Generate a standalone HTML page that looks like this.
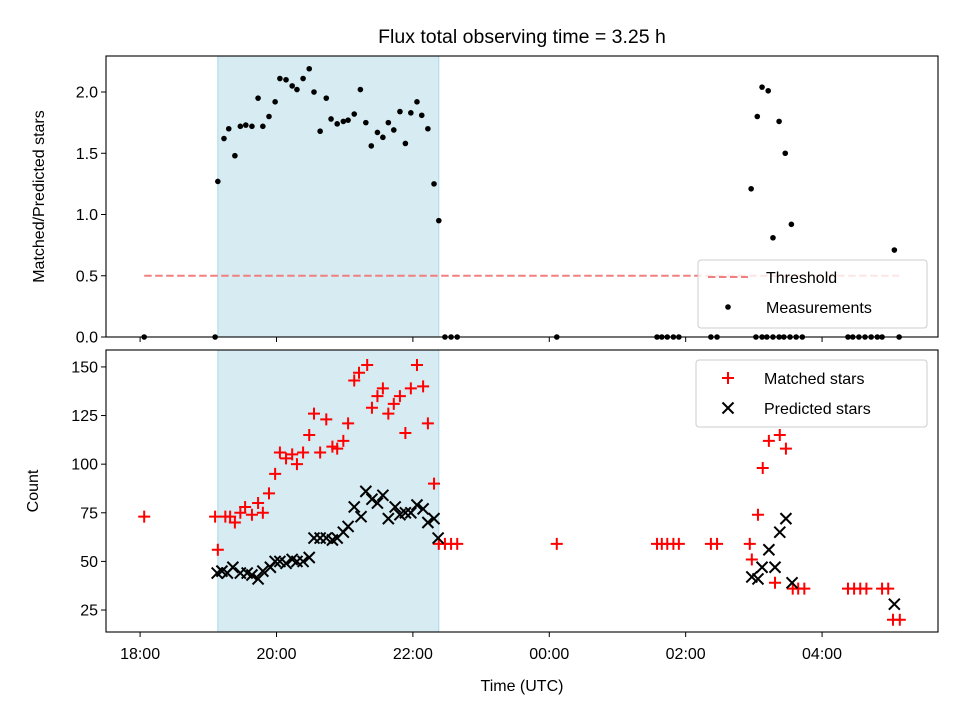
<!DOCTYPE html>
<html><head><meta charset="utf-8"><style>
body{margin:0;background:#fff}
svg{display:block;font-family:"Liberation Sans","DejaVu Sans",sans-serif}
</style></head><body>
<svg id="c" width="960" height="720"></svg>
<script>
const topT=[19.14,19.23,19.30,19.39,19.47,19.55,19.64,19.73,19.80,19.89,19.98,20.05,20.14,20.23,20.30,20.39,20.48,20.55,20.64,20.73,20.80,20.89,20.98,21.05,21.14,21.23,21.31,21.39,21.48,21.56,21.64,21.72,21.81,21.89,21.97,22.06,22.13,22.22,22.31,22.38,
18.06,19.10,22.47,22.56,22.65,24.11,25.58,25.65,25.73,25.82,25.90,26.37,26.46,27.03,27.12,27.19,27.28,27.37,27.44,27.53,27.62,27.71,28.38,28.45,28.54,28.63,28.72,28.81,28.88,29.13,
26.96,27.05,27.12,27.21,27.28,27.37,27.46,27.55,29.06];
const topV=[1.27,1.62,1.70,1.48,1.72,1.73,1.72,1.95,1.72,1.80,1.92,2.11,2.10,2.05,2.02,2.11,2.19,2.00,1.68,1.95,1.78,1.74,1.76,1.77,1.82,2.02,1.75,1.56,1.67,1.63,1.75,1.69,1.84,1.58,1.83,1.92,1.81,1.70,1.25,0.95,
0,0,0,0,0,0,0,0,0,0,0,0,0,0,0,0,0,0,0,0,0,0,0,0,0,0,0,0,0,0,
1.21,1.80,2.04,2.01,0.81,1.76,1.50,0.92,0.71];
const matT=[18.06,19.10,19.14,19.25,19.32,19.39,19.47,19.54,19.64,19.73,19.80,19.89,19.98,20.05,20.14,20.23,20.30,20.39,20.48,20.55,20.64,20.73,20.82,20.89,20.98,21.05,21.14,21.21,21.33,21.40,21.48,21.56,21.64,21.72,21.81,21.89,21.97,22.06,22.15,22.22,22.31,22.38,22.47,22.56,22.65,24.11,25.58,25.65,25.73,25.82,25.90,26.37,26.46,26.94,26.97,27.06,27.13,27.22,27.38,27.47,27.31,27.57,27.65,27.74,28.38,28.47,28.56,28.65,28.88,28.97,29.04,29.14];
const matV=[73,73,56,73,73,70,75,78,74,80,75,85,95,106,103,105,100,106,115,126,106,123,109,108,112,121,143,147,151,129,135,139,126,131,135,116,139,151,140,121,90,59,59,59,59,59,59,59,59,59,59,59,59,59,51,74,98,112,115,108,39,36,36,36,36,36,36,36,36,36,20,20];
const preT=[19.13,19.20,19.28,19.36,19.47,19.57,19.64,19.73,19.80,19.91,19.98,20.05,20.14,20.23,20.30,20.39,20.48,20.55,20.64,20.73,20.82,20.89,20.98,21.05,21.14,21.24,21.31,21.40,21.48,21.56,21.64,21.74,21.81,21.89,21.97,22.06,22.15,22.22,22.31,22.37,26.97,27.06,27.12,27.22,27.31,27.38,27.47,27.56,29.06];
const preV=[44,45,44,47,44,44,43,41,45,47,50,50,49,51,50,50,52,62,62,62,61,62,65,68,78,73,86,82,80,84,72,78,74,75,75,79,77,70,72,62,42,41,47,56,47,65,72,39,28];
const xTicks=[18,20,22,24,26,28];
const xTickLabels=["18:00","20:00","22:00","00:00","02:00","04:00"];
const topYTicks=[0,0.5,1.0,1.5,2.0];
const botYTicks=[25,50,75,100,125,150];
const shade=[19.14,22.38];
const threshT=[18.06,29.13], threshV=0.5;

const NS="http://www.w3.org/2000/svg";
const svg=document.getElementById('c');
function mk(tag,attrs,parent){const e=document.createElementNS(NS,tag);for(const k in attrs)e.setAttribute(k,attrs[k]);(parent||svg).appendChild(e);return e;}
const L=106,R=938;
const X0=17.5,X1=29.70;
const xs=t=>L+(t-X0)/(X1-X0)*(R-L);
const T0=56,T1=337, yT=v=>T1-v/2.294*(T1-T0);
const B0=350,B1=632, yB=v=>B1-(v-13.7)/(158.7-13.7)*(B1-B0);

function txt(x,y,s,opt){const e=mk('text',Object.assign({x:x,y:y,'font-size':16,fill:'#000'},opt||{}));e.textContent=s;return e;}

// title
let t=txt(522,43,"Flux total observing time = 3.25 h",{'text-anchor':'middle','font-size':19.5});


function panel(top,bot,name){
  const g=mk('g',{});
  
  const r=mk('rect',{x:xs(shade[0]),y:top,width:xs(shade[1])-xs(shade[0]),height:bot-top,fill:'#add8e6','fill-opacity':0.5,stroke:'#add8e6','stroke-width':1},g);
  
  return g;
}
function frame(g,top,bot){mk('rect',{x:L,y:top,width:R-L,height:bot-top,fill:'none',stroke:'#000','stroke-width':1.1},g);}

// top panel
const gt=panel(T0,T1,'top-panel');
const th=mk('line',{x1:xs(threshT[0]),x2:xs(threshT[1]),y1:yT(threshV),y2:yT(threshV),stroke:'#f08080','stroke-width':2,'stroke-dasharray':'7.5,3.5'},gt);

topT.forEach((tt,i)=>{const c=mk('circle',{cx:xs(tt),cy:yT(topV[i]),r:2.8,fill:'#000'},gt);
});
frame(gt,T0,T1);
topYTicks.forEach(v=>{const y=yT(v);mk('line',{x1:L-5,x2:L,y1:y,y2:y,stroke:'#000'},gt);
const e=txt(L-8,y+5.5,v.toFixed(1),{'text-anchor':'end'},gt);});
xTicks.forEach(v=>{mk('line',{x1:xs(v),x2:xs(v),y1:T1,y2:T1+5,stroke:'#000'},gt);});
t=txt(0,0,"Matched/Predicted stars",{'text-anchor':'middle',transform:`translate(44,${(T0+T1)/2}) rotate(-90)`});


// top legend
const lg=mk('g',{});
mk('rect',{x:698,y:260,width:229,height:68,rx:3,fill:'#fff','fill-opacity':0.8,stroke:'#ccc'},lg);
mk('line',{x1:708,x2:748,y1:277,y2:277,stroke:'#f08080','stroke-width':2,'stroke-dasharray':'7.5,3.5'},lg);
txt(766,283,"Threshold",{},lg);
mk('circle',{cx:728,cy:307,r:2.8,fill:'#000'},lg);
txt(766,313,"Measurements",{},lg);

// bottom panel
const gb=panel(B0,B1,'bottom-panel');
matT.forEach((tt,i)=>{const x=xs(tt),y=yB(matV[i]);const p=mk('path',{d:`M${x-6},${y}H${x+6}M${x},${y-6}V${y+6}`,stroke:'#f00','stroke-width':2},gb);
});
preT.forEach((tt,i)=>{const x=xs(tt),y=yB(preV[i]);const p=mk('path',{d:`M${x-5.5},${y-5.5}L${x+5.5},${y+5.5}M${x-5.5},${y+5.5}L${x+5.5},${y-5.5}`,stroke:'#000','stroke-width':2},gb);
});
frame(gb,B0,B1);
botYTicks.forEach(v=>{const y=yB(v);mk('line',{x1:L-5,x2:L,y1:y,y2:y,stroke:'#000'},gb);
const e=txt(L-8,y+5.5,String(v),{'text-anchor':'end'},gb);});
xTicks.forEach((v,i)=>{mk('line',{x1:xs(v),x2:xs(v),y1:B1,y2:B1+5,stroke:'#000'},gb);
const e=txt(xs(v),B1+27,xTickLabels[i],{'text-anchor':'middle'},gb);});
t=txt(0,0,"Count",{'text-anchor':'middle',transform:`translate(38,${(B0+B1)/2}) rotate(-90)`});

t=txt(522,691,"Time (UTC)",{'text-anchor':'middle'});


// bottom legend
const lb=mk('g',{});
mk('rect',{x:696,y:360,width:231,height:67,rx:3,fill:'#fff','fill-opacity':0.8,stroke:'#ccc'},lb);
mk('path',{d:'M722,378H734M728,372V384',stroke:'#f00','stroke-width':2},lb);
txt(764,384,"Matched stars",{},lb);
mk('path',{d:'M722.5,402.5L733.5,413.5M722.5,413.5L733.5,402.5',stroke:'#000','stroke-width':2},lb);
txt(764,414,"Predicted stars",{},lb);
</script>
</body></html>
